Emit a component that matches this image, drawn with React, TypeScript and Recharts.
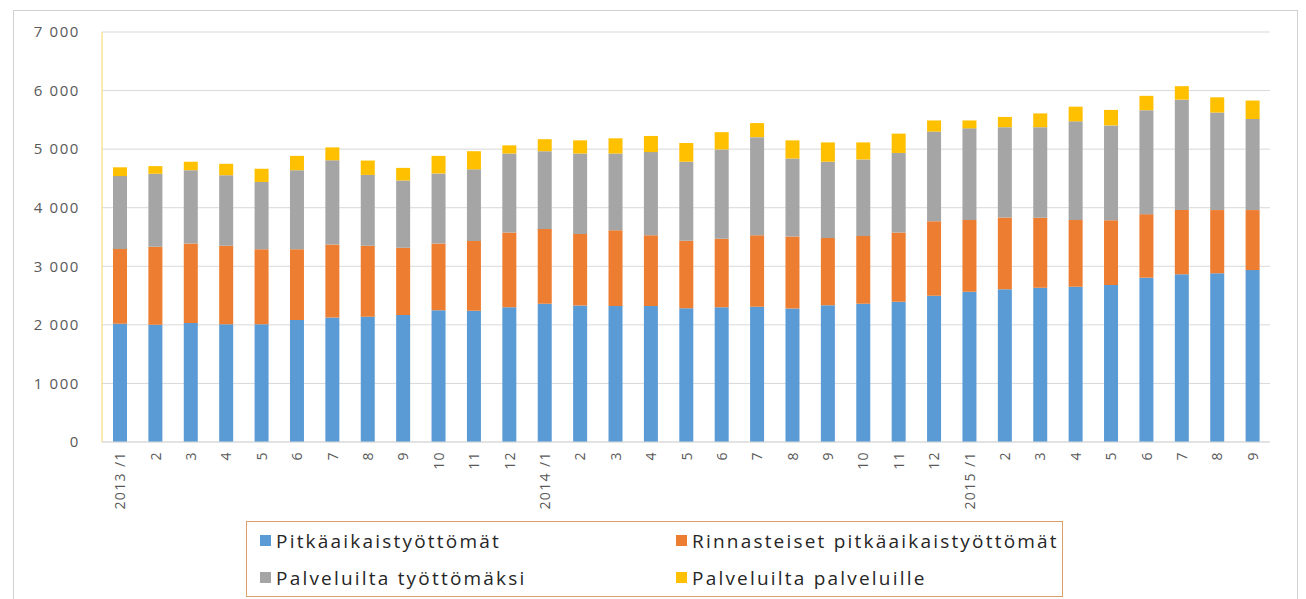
import { Bar, BarChart, CartesianGrid, Legend, XAxis, YAxis } from "recharts";

const months = [
  "2013 /1", "2", "3", "4", "5", "6", "7", "8", "9", "10", "11", "12",
  "2014 /1", "2", "3", "4", "5", "6", "7", "8", "9", "10", "11", "12",
  "2015 /1", "2", "3", "4", "5", "6", "7", "8", "9",
];

const pitkaaikaiset = [
  2020, 2000, 2030, 2010, 2010, 2085, 2125, 2140, 2170, 2250, 2240, 2300,
  2360, 2330, 2320, 2320, 2285, 2300, 2310, 2280, 2335, 2360, 2395, 2495,
  2565, 2610, 2635, 2650, 2680, 2805, 2865, 2880, 2935,
];
const rinnasteiset = [
  1275, 1335, 1360, 1340, 1280, 1205, 1245, 1210, 1145, 1140, 1190, 1275,
  1275, 1220, 1295, 1210, 1150, 1170, 1220, 1230, 1150, 1155, 1180, 1275,
  1225, 1225, 1195, 1140, 1105, 1085, 1095, 1080, 1025,
];
const tyottomaksi = [
  1245, 1245, 1250, 1205, 1150, 1350, 1440, 1210, 1150, 1195, 1225, 1350,
  1330, 1375, 1310, 1420, 1350, 1525, 1675, 1330, 1300, 1310, 1360, 1530,
  1565, 1540, 1545, 1685, 1620, 1775, 1885, 1665, 1555,
];
const palveluille = [
  150, 130, 145, 195, 225, 245, 220, 245, 215, 300, 310, 140,
  205, 225, 260, 275, 320, 295, 240, 310, 330, 290, 330, 190,
  135, 175, 235, 250, 265, 245, 230, 260, 315,
];

const seriesKeys = ["a", "b", "c", "d"];
const seriesNames = [
  "Pitkäaikaistyöttömät",
  "Rinnasteiset pitkäaikaistyöttömät",
  "Palveluilta työttömäksi",
  "Palveluilta palveluille",
];
const seriesColors = ["#5B9BD5", "#ED7D31", "#A5A5A5", "#FFC000"];

const yTicks = [0, 1000, 2000, 3000, 4000, 5000, 6000, 7000];

const data = months.map((m, i) => ({
  key: `${i}`,
  label: m,
  a: pitkaaikaiset[i],
  b: rinnasteiset[i],
  c: tyottomaksi[i],
  d: palveluille[i],
}));

const font = "'Open Sans', 'DejaVu Sans', sans-serif";

const fmt = (v: number) => (v >= 1000 ? `${Math.floor(v / 1000)} ${String(v % 1000).padStart(3, "0")}` : `${v}`);

const XTick = (props: any) => {
  const { x, y, payload } = props;
  const label = data[payload.index]?.label ?? payload.value;
  return (
    <text
      x={x}
      y={y}
      transform={`rotate(-90, ${x}, ${y})`}
      textAnchor="end"
      dominantBaseline="central"
      fontSize={14}
      fontFamily={font}
      fill="#595959"
      letterSpacing={1.4}
    >
      {label}
    </text>
  );
};

const LegendBox = () => (
  <div
    style={{
      border: "1px solid #d9a06a",
      width: 817,
      height: 76,
      boxSizing: "border-box",
      display: "grid",
      gridTemplateColumns: "416px 390px",
      gridTemplateRows: "37px 37px",
      paddingLeft: 13,
      fontFamily: font,
      fontSize: 19,
      color: "#262626",
      letterSpacing: 2.2,
      whiteSpace: "nowrap",
    }}
  >
    {seriesKeys.map((k, i) => (
      <div key={k} style={{ display: "flex", alignItems: "center" }}>
        <span style={{ width: 11, height: 11, background: seriesColors[i], marginRight: 5, display: "inline-block" }} />
        <span>{seriesNames[i]}</span>
      </div>
    ))}
  </div>
);

export default function App() {
  return (
    <div style={{ position: "absolute", left: 0, top: 0, width: 1306, height: 599, background: "#fff", overflow: "hidden" }}>
      <div
        style={{
          position: "absolute",
          left: 13,
          top: 10,
          width: 1285,
          height: 620,
          border: "1px solid #d0d0d0",
          boxSizing: "border-box",
        }}
      />
      <div style={{ position: "absolute", left: 0, top: 0 }}>
        <BarChart
          width={1306}
          height={599}
          data={data}
          margin={{ top: 32, right: 36, left: 0, bottom: 11 }}
          barSize={14}
        >
          <CartesianGrid horizontal vertical={false} stroke="#d9d9d9" />
          <XAxis
            dataKey="key"
            interval={0}
            tick={<XTick />}
            tickLine={false}
            axisLine={{ stroke: "#d9d9d9" }}
            height={70}
            tickSize={0}
            tickMargin={9}
          />
          <XAxis xAxisId="top" orientation="top" dataKey="key" tick={false} tickLine={false} axisLine={{ stroke: "#e2a55c" }} height={0} />
          <YAxis
            domain={[0, 7000]}
            ticks={yTicks}
            tickFormatter={fmt}
            tickLine={false}
            axisLine={{ stroke: "#f5d76e" }}
            width={102}
            tickSize={0}
            tickMargin={22}
            tick={{ fontSize: 15, fill: "#595959", fontFamily: font, letterSpacing: 1.6 }}
          />
          <YAxis yAxisId="right" orientation="right" domain={[0, 7000]} tick={false} tickLine={false} axisLine={{ stroke: "#e2a55c" }} width={0} />
          <Legend
            content={<LegendBox />}
            wrapperStyle={{ position: "absolute", left: 246, top: 521, width: 817, height: 76 }}
          />
          {seriesKeys.map((k, i) => (
            <Bar key={k} dataKey={k} name={seriesNames[i]} stackId="s" fill={seriesColors[i]} isAnimationActive={false} />
          ))}
        </BarChart>
      </div>
    </div>
  );
}
